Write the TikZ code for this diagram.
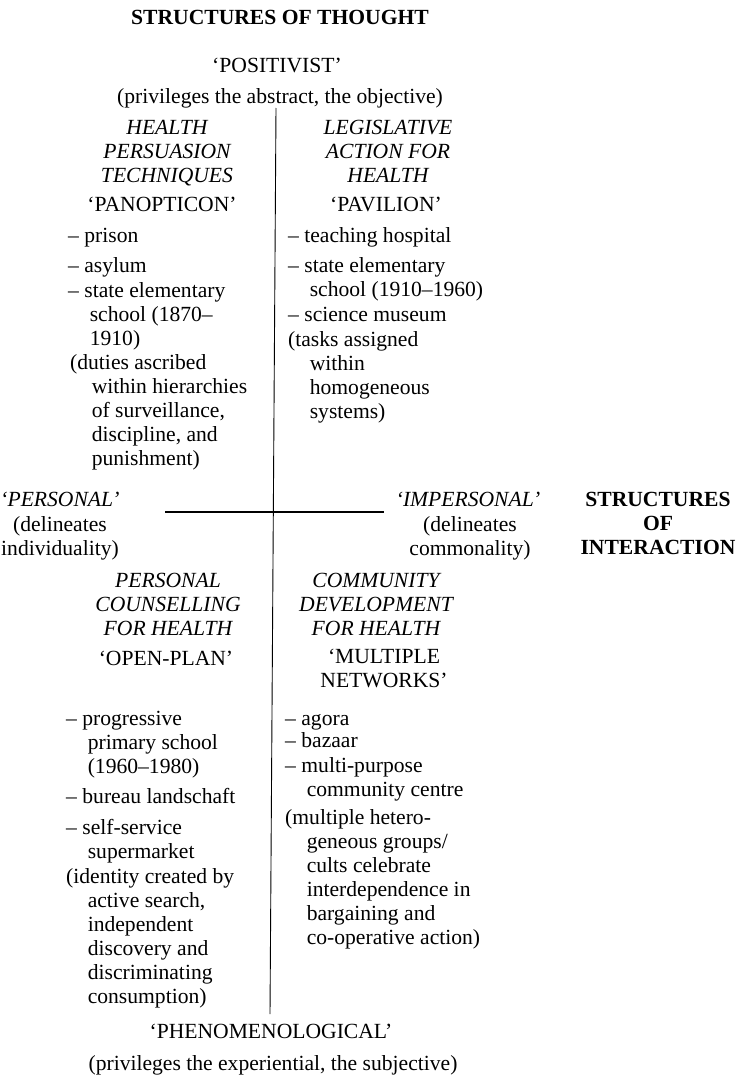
\documentclass[tikz,border=0pt]{standalone}
\usepackage{fontspec}
\setmainfont{Liberation Serif}
\newcommand{\hind}{\hspace*{1em}}

\begin{document}
\begin{tikzpicture}[x=1pt, y=-1pt,
  every node/.style={inner sep=0pt, font=\fontsize{21.6}{24}\selectfont},
  centred/.style={anchor=base, align=center},
  bold/.style={centred, font=\fontsize{21.6}{24}\selectfont\bfseries},
  head/.style={centred, font=\fontsize{21.6}{24}\selectfont\itshape},
  item/.style={anchor=base west, align=left}]
\useasboundingbox (0,0) rectangle (740,1076);
% multi-line nodes are placed at the baseline of their last line

% poles of thought
\node[bold] (thought) at (280,24) {STRUCTURES OF THOUGHT};
\node[centred] (posit) at (277,72) {`POSITIVIST'};
\node[centred] (posdef) at (280,103) {(privileges the abstract, the objective)};
\node[centred] (phenom) at (271,1038) {`PHENOMENOLOGICAL'};
\node[centred] (phendef) at (273,1070) {(privileges the experiential, the subjective)};

% axes
\coordinate (top) at (276,108); \coordinate (bot) at (270,1014);
\coordinate (lft) at (165,512); \coordinate (rgt) at (384,512);
\draw[line width=0.9pt] (top) -- (bot);
\draw[line width=1.6pt] (lft) -- (rgt);

% poles of interaction
\node[head] (personal) at (60,506) {`PERSONAL'};
\node[centred] (persdef) at (60,555) {(delineates\\individuality)};
\node[head] (impers) at (468,506) {`IMPERSONAL'};
\node[centred] (impdef) at (470,555) {(delineates\\commonality)};
\node[bold] (interact) at (658,554) {STRUCTURES\\OF\\INTERACTION};

% upper left
\node[head] (persuas) at (167,182) {HEALTH\\PERSUASION\\TECHNIQUES};
\node[centred] (panopt) at (162,211) {`PANOPTICON'};
\node[item] (prison) at (68,242) {-- prison};
\node[item] (asylum) at (68,272) {-- asylum};
\node[item] (stateA) at (68,345) {-- state elementary\\\hind school (1870--\\\hind 1910)};
\node[item] (duties) at (70,465) {(duties ascribed\\\hind within hierarchies\\\hind of surveillance,\\\hind discipline, and\\\hind punishment)};

% upper right
\node[head] (legis) at (388,182) {LEGISLATIVE\\ACTION FOR\\HEALTH};
\node[centred] (pavil) at (386,211) {`PAVILION'};
\node[item] (hosp) at (288,242) {-- teaching hospital};
\node[item] (stateB) at (288,296) {-- state elementary\\\hind school (1910--1960)};
\node[item] (museum) at (288,321) {-- science museum};
\node[item] (tasks) at (288,418) {(tasks assigned\\\hind within\\\hind homogeneous\\\hind systems)};

% lower left
\node[head] (counsel) at (168,635) {PERSONAL\\COUNSELLING\\FOR HEALTH};
\node[centred] (openplan) at (166,665) {`OPEN-PLAN'};
\node[item] (progr) at (66,773) {-- progressive\\\hind primary school\\\hind (1960--1980)};
\node[item] (bureau) at (66,803) {-- bureau landschaft};
\node[item] (selfserv) at (66,858) {-- self-service\\\hind supermarket};
\node[item] (identity) at (66,1003) {(identity created by\\\hind active search,\\\hind independent\\\hind discovery and\\\hind discriminating\\\hind consumption)};

% lower right
\node[head] (commun) at (376,635) {COMMUNITY\\DEVELOPMENT\\FOR HEALTH};
\node[centred] (networks) at (384,687) {`MULTIPLE\\NETWORKS'};
\node[item] (agora) at (285,725) {-- agora};
\node[item] (bazaar) at (285,747) {-- bazaar};
\node[item] (multi) at (285,796) {-- multi-purpose\\\hind community centre};
\node[item] (hetero) at (285,944) {(multiple hetero-\\\hind geneous groups/\\\hind cults celebrate\\\hind interdependence in\\\hind bargaining and\\\hind co-operative action)};
\end{tikzpicture}
\end{document}
